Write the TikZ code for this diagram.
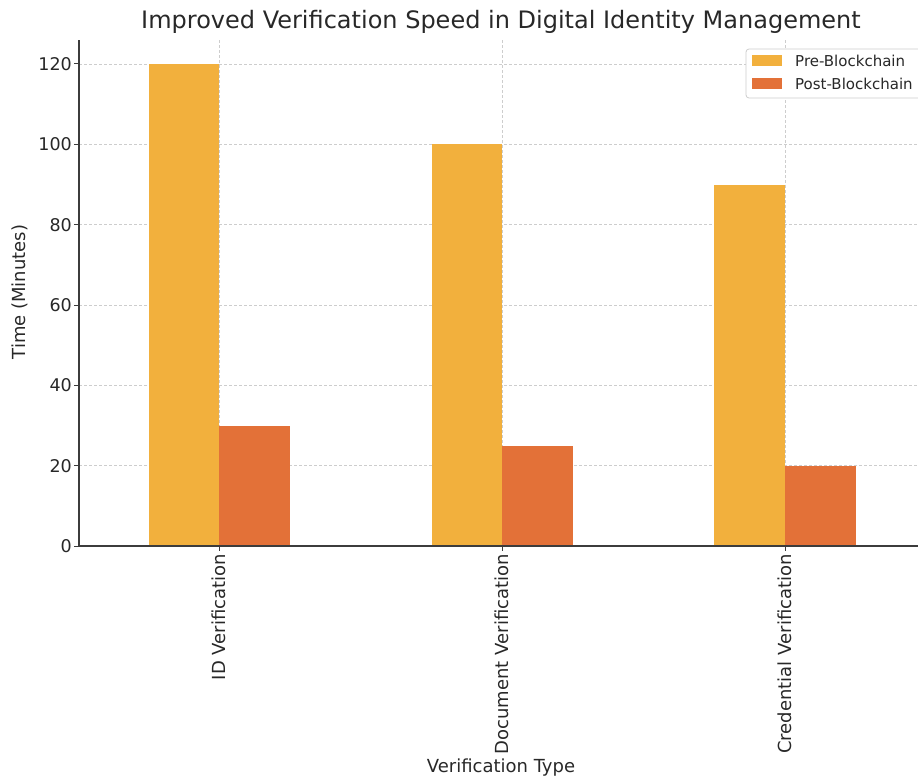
\documentclass[tikz,border=0pt]{standalone}
\usepackage{fontspec}
\setmainfont{DejaVu Sans}
\definecolor{preC}{RGB}{242,176,61}
\definecolor{postC}{RGB}{227,113,56}
\definecolor{axC}{RGB}{60,60,60}
\definecolor{txtC}{RGB}{40,40,40}
\definecolor{gridC}{RGB}{205,205,205}
\tikzset{
  gridline/.style={draw=gridC, line width=0.7pt, dash pattern=on 3pt off 2pt},
  spine/.style={draw=axC, line width=1.3pt},
  ticklab/.style={text=txtC, font=\fontsize{17.5}{17.5}\selectfont, inner sep=0pt},
  catlab/.style={text=txtC, font=\fontsize{18}{18}\selectfont, inner sep=0pt, rotate=90, anchor=east},
  axlab/.style={text=txtC, font=\fontsize{18}{18}\selectfont, inner sep=0pt},
  leglab/.style={text=txtC, font=\fontsize{15}{15}\selectfont, inner sep=0pt, anchor=west},
  prebar/.style={fill=preC},
  postbar/.style={fill=postC},
}
\begin{document}
\begin{tikzpicture}[x=1pt,y=-1pt]
\useasboundingbox (0,0) rectangle (918,779);
% horizontal grid
\foreach \v in {20,40,...,120}{
  \draw[gridline] (79,{546-\v*4.0167}) -- (918,{546-\v*4.0167});
}
% vertical grid
\foreach \x in {219,502,785}{
  \draw[gridline] (\x,40) -- (\x,546);
}
% bars
\fill[prebar] (149,546) rectangle (219,{546-120*4.0167});
\fill[postbar] (219,546) rectangle (290,{546-30*4.0167});
\fill[prebar] (432,546) rectangle (502,{546-100*4.0167});
\fill[postbar] (502,546) rectangle (573,{546-25*4.0167});
\fill[prebar] (714,546) rectangle (785,{546-90*4.0167});
\fill[postbar] (785,546) rectangle (856,{546-20*4.0167});
% spines
\draw[spine] (79,40) -- (79,546);
\draw[spine] (79,546) -- (918,546);
% y ticks
\foreach \v in {0,20,...,120}{
  \draw[axC, line width=1pt] (74,{546-\v*4.0167}) -- (79,{546-\v*4.0167});
  \node[ticklab, anchor=east] (yt\v) at (72,{546-\v*4.0167}) {\v};
}
% x ticks
\foreach \x in {219,502,785}{
  \draw[axC, line width=1pt] (\x,546) -- (\x,551);
}
\node[catlab] (c1) at (219,554) {ID Verification};
\node[catlab] (c2) at (502,554) {Document Verification};
\node[catlab] (c3) at (785,554) {Credential Verification};
% axis labels
\node[axlab] (xl) at (501,768) {Verification Type};
\node[axlab, rotate=90] (yl) at (20,292) {Time (Minutes)};
% title
\node[text=txtC, font=\fontsize{24}{24}\selectfont, inner sep=0pt] (title) at (501,22) {Improved Verification Speed in Digital Identity Management};
% legend
\draw[draw=gridC, fill=white, rounded corners=3pt, line width=0.8pt] (746,49) rectangle (924,98);
\fill[preC] (752,55) rectangle (782,66);
\fill[postC] (752,78) rectangle (782,89);
\node[leglab] (l1) at (795,61) {Pre-Blockchain};
\node[leglab] (l2) at (795,84) {Post-Blockchain};
\end{tikzpicture}
\end{document}
